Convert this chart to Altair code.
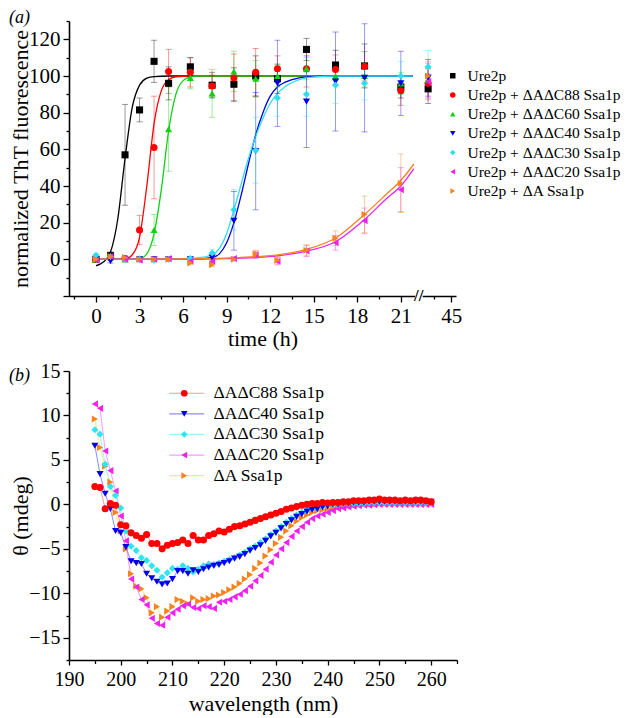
import altair as alt
import pandas as pd

FONT = "Liberation Serif"

# ---------------- panel (a): ThT kinetics ----------------
series_a = ["Ure2p", "Ure2p + ΔAΔC88 Ssa1p", "Ure2p + ΔAΔC60 Ssa1p",
            "Ure2p + ΔAΔC40 Ssa1p", "Ure2p + ΔAΔC30 Ssa1p",
            "Ure2p + ΔAΔC20 Ssa1p", "Ure2p + ΔA Ssa1p"]
colors_a = ["#000000", "#FF0000", "#12D012", "#0000E6", "#2EDDEE", "#EE22EE", "#F5821F"]
shapes_a = ["square", "circle", "triangle-up", "triangle-down", "diamond",
            "triangle-left", "triangle-right"]

time_h = [0, 1, 2, 3, 4, 5, 6.5, 8, 9.5, 11, 12.5, 14.5, 16.5, 18.5, 21, 43]

ure2p_val = [0, 2, 57, 81.5, 108, 96, 105, 95, 95.5, 100, 98.5, 114.5, 106, 105.5, 94, 93]
ure2p_err = [1, 2, 27.5, 6.5, 11.5, 9, 5, 7, 9, 11, 8, 6, 8, 12, 6, 8]
c88_val = [0, 1, 0.5, 16, 61, 102.5, 102, 94.5, 99, 102, 104, 104, 103.5, 105.3, 92, 96]
c88_err = [1, 1, 1, 8, 28, 12, 8, 6, 13, 13, 7, 10, 8, 8, 8, 8]
c60_val = [0, 1, 0, 0.5, 16, 71, 99, 90.5, 102.5, 98.5, 100, 104, 100, 100, 96, 98]
c60_err = [1, 1, 1, 1, 8.5, 23, 6, 13, 11, 10, 6, 6, 5, 6, 6, 6]
c40_val = [0, -1, 0, 0, 0, 0, 0, 1, 21, 59, 96, 86, 97, 99, 96, 99]
c40_err = [1, 1, 1, 1, 1, 1, 1, 2, 16, 32, 23.5, 25, 27, 29.5, 17.5, 10]
c30_val = [2.2, 1.5, 0, 0, -0.5, 0, 0.5, 3.5, 27, 59.5, 88, 90, 95, 96, 100, 105]
c30_err = [1, 1, 1, 1, 1, 1, 1, 2, 11, 18, 10, 12, 10, 9, 8, 9]
c20_val = [-0.5, 1.5, 0, -0.5, 0, 0.5, -1, -1, 0.5, 2.5, -1, 4.5, 9, 21, 38, 97]
c20_err = [1, 1, 1, 1, 1, 1, 1, 1, 1, 2, 2, 3, 4, 7, 12, 10]
dA_val = [0, 1.5, 1, 0, 0, 0, -2, -2.9, 0, 2.9, -0.5, 5, 11.5, 24.5, 41.5, 100]
dA_err = [1, 1, 1, 1, 1, 1, 1, 1, 1, 2, 2, 3, 4, 10, 16, 8]

# fitted sigmoid curves at knots
ure2p_fit_t = [0, 0.5, 1, 1.5, 2, 2.5, 3, 3.5, 4, 5, 21.8]
ure2p_fit_v = [-3.5, -1.5, 4, 22, 55, 83, 95, 98.8, 99.7, 100, 100]
c88_fit_t = [0, 2, 2.5, 3, 3.5, 4, 4.5, 5, 5.5, 6.5, 21.8]
c88_fit_v = [0, 0.2, 2.5, 12, 40, 74, 92, 98, 99.6, 100, 100]
c60_fit_t = [0, 3, 3.5, 4, 4.5, 5, 5.5, 6, 6.5, 7, 21.8]
c60_fit_v = [0, 0.3, 3, 14, 38, 70, 90, 97.5, 99.5, 100, 100]
c40_fit_t = [0, 6, 7, 8, 8.5, 9, 9.5, 10, 10.5, 11, 11.5, 12, 12.5, 13, 14, 15, 16, 21.8]
c40_fit_v = [0, 0.1, 0.2, 1, 3, 9, 20, 35, 52, 68, 80, 89, 94, 96.5, 99, 99.7, 100, 100]
c30_fit_t = [0, 6, 7, 8, 8.5, 9, 9.5, 10, 10.5, 11, 11.5, 12, 12.5, 13, 14, 15, 16.5, 21.8]
c30_fit_v = [0, 0.3, 0.8, 2.5, 6, 14, 27, 41, 55, 67, 77, 85, 90.5, 94, 98, 99.5, 100, 100]
c20_fit_t = [0, 6, 9, 11, 12.5, 14.5, 16.5, 18.5, 20, 21, 21.9]
c20_fit_v = [0, 0.1, 0.4, 1.0, 1.9, 4.5, 9.6, 21.7, 33, 40, 49.5]
dA_fit_t = [0, 6, 9, 11, 12.5, 14.5, 16.5, 18.5, 20, 21, 21.9]
dA_fit_v = [0, 0.2, 0.7, 1.4, 2.4, 5.4, 11.6, 24.5, 35.5, 43, 52]

# broken time axis: values past the break are compressed next to it
BREAK_POS = 22.24
T45_POS = 24.48
POST_SCALE = 0.8


def disp(t):
    return t if t <= 22 else T45_POS + (t - 45) * POST_SCALE


vals_a = [ure2p_val, c88_val, c60_val, c40_val, c30_val, c20_val, dA_val]
errs_a = [ure2p_err, c88_err, c60_err, c40_err, c30_err, c20_err, dA_err]
fits_a = [(ure2p_fit_t, ure2p_fit_v), (c88_fit_t, c88_fit_v), (c60_fit_t, c60_fit_v),
          (c40_fit_t, c40_fit_v), (c30_fit_t, c30_fit_v), (c20_fit_t, c20_fit_v),
          (dA_fit_t, dA_fit_v)]

rows = []
for name, vals, errs in zip(series_a, vals_a, errs_a):
    for t, v, e in zip(time_h, vals, errs):
        rows.append(dict(series=name, series_c=name, td=disp(t), v=v, lo=v - e, hi=v + e))
df_a = pd.DataFrame(rows)

rows = []
for name, (ts, vs) in zip(series_a, fits_a):
    for t, v in zip(ts, vs):
        rows.append(dict(series_c=name, td=t, v=v))
df_fit = pd.DataFrame(rows)

brk = pd.DataFrame({"x0": [BREAK_POS - 0.27], "x1": [BREAK_POS + 0.27],
                    "y0": [-22.2], "y1": [-17.8], "xm": [BREAK_POS], "ym": [-20], "s": ["//"]})
panel_labels = pd.DataFrame({"lab": ["(a)", "(b)"]})


def cond(test, major, minor):
    return {"condition": {"test": test, "value": major}, "value": minor}


def axis(**kw):
    base = dict(grid=False, domainColor="black", tickColor="black", domainWidth=1.6,
                tickWidth=1.3, labelColor="black", titleColor="black", labelFont=FONT,
                titleFont=FONT, titleFontWeight="normal", labelFlush=False,
                labelOverlap=False)
    base.update(kw)
    return alt.Axis(**base)


xa_values = sorted([-1.5 + 3 * k for k in range(8)] + [3 * k for k in range(8)]
                   + [disp(43.5), disp(45)])
axis_xa = axis(values=xa_values,
               labelExpr="datum.value > 24 ? '45' : (datum.value > 22 ? '' : (abs(datum.value % 3) < 0.01 ? format(datum.value, 'd') : ''))",
               tickSize=cond("datum.value > 24 || (datum.value < 22 && abs(datum.value % 3) < 0.01)", 6, 3),
               title="time (h)", labelFontSize=21, titleFontSize=22,
               labelPadding=3, titlePadding=2)
axis_ya = axis(values=list(range(-20, 131, 10)),
               labelExpr="datum.value >= 0 && datum.value <= 120 && datum.value % 20 == 0 ? format(datum.value, 'd') : ''",
               tickSize=cond("datum.value % 20 == 0", 6, 3),
               title="normalized ThT fluorescence", labelFontSize=21, titleFontSize=22,
               labelPadding=3, titlePadding=0, minExtent=37, maxExtent=37)

xs_a = alt.Scale(domain=[-1.86, 24.8], nice=False, zero=False)
ys_a = alt.Scale(domain=[-20, 130], nice=False, zero=False)
cs_a = alt.Scale(domain=series_a, range=colors_a)
ss_a = alt.Scale(domain=series_a, range=shapes_a)
# separate (data-driven) colour scale for curves and error bars
line_scale_a = alt.Scale(range=colors_a)

legend_a = alt.Legend(title=None, orient="none", legendX=376, legendY=47, symbolSize=30,
                      symbolStrokeWidth=0, labelFontSize=15.5, labelFont=FONT,
                      labelColor="black", labelOffset=7, rowPadding=2.2, padding=0,
                      labelLimit=0)

X_a = alt.X("td:Q", scale=xs_a, axis=axis_xa)

curves = alt.Chart(df_fit).mark_line(strokeWidth=1.3, interpolate="monotone").encode(
    x=X_a,
    y=alt.Y("v:Q", scale=ys_a, axis=axis_ya),
    stroke=alt.Stroke("series_c:N", sort=series_a, scale=line_scale_a, legend=None),
)
err_rule = alt.Chart(df_a).mark_rule(strokeWidth=1, opacity=0.4).encode(
    x=X_a,
    y=alt.Y("lo:Q", scale=ys_a, axis=axis_ya),
    y2="hi:Q",
    stroke=alt.Stroke("series_c:N", sort=series_a, scale=line_scale_a, legend=None),
)
cap_lo = alt.Chart(df_a).mark_tick(orient="horizontal", size=6, thickness=1, opacity=0.4).encode(
    x=X_a,
    y=alt.Y("lo:Q", scale=ys_a, axis=axis_ya),
    fill=alt.Fill("series_c:N", sort=series_a, scale=line_scale_a, legend=None),
)
cap_hi = alt.Chart(df_a).mark_tick(orient="horizontal", size=6, thickness=1, opacity=0.4).encode(
    x=X_a,
    y=alt.Y("hi:Q", scale=ys_a, axis=axis_ya),
    fill=alt.Fill("series_c:N", sort=series_a, scale=line_scale_a, legend=None),
)
points_a = alt.Chart(df_a).mark_point(filled=True, size=50, opacity=1, strokeWidth=0).encode(
    x=X_a,
    y=alt.Y("v:Q", scale=ys_a, axis=axis_ya),
    color=alt.Color("series:N", scale=cs_a, legend=legend_a),
    shape=alt.Shape("series:N", scale=ss_a, legend=legend_a),
)
brk_rect = alt.Chart(brk).mark_rect(color="white").encode(
    x=alt.X("x0:Q", scale=xs_a, axis=axis_xa), x2="x1:Q",
    y=alt.Y("y0:Q", scale=ys_a, axis=axis_ya), y2="y1:Q",
)
brk_text = alt.Chart(brk).mark_text(fontSize=17, font=FONT, fontWeight="bold",
                                    color="black", baseline="middle").encode(
    x=alt.X("xm:Q", scale=xs_a, axis=axis_xa),
    y=alt.Y("ym:Q", scale=ys_a, axis=axis_ya),
    text="s:N",
)
label_a = alt.Chart(panel_labels).transform_filter("datum.lab == '(a)'").mark_text(
    font=FONT, fontSize=18, fontStyle="italic", align="left", baseline="middle",
    color="black").encode(x=alt.value(-60), y=alt.value(-3), text="lab:N")

chart_a = alt.layer(curves, err_rule, cap_lo, cap_hi, points_a, brk_rect, brk_text,
                    label_a).properties(width=387, height=275)

# ---------------- panel (b): CD spectra ----------------
series_b = ["ΔAΔC88 Ssa1p", "ΔAΔC40 Ssa1p", "ΔAΔC30 Ssa1p", "ΔAΔC20 Ssa1p", "ΔA Ssa1p"]
colors_b = ["#FF0000", "#0000F0", "#2EE6F0", "#EE22EE", "#F5821F"]
pale_b = ["#FF9A9A", "#8C8CFF", "#9AF6FF", "#FF9AFF", "#FFE680"]
shapes_b = ["circle", "triangle-down", "diamond", "triangle-left", "triangle-right"]

wavelength = list(range(195, 261))
cd_c88 = [2.0, 1.9, -0.5, 0.1, -0.1, -2.3, -2.4, -3.2, -3.5, -3.8,
          -3.4, -4.4, -4.4, -5.0, -4.6, -4.4, -4.3, -4.0, -4.4, -3.5,
          -4.0, -4.0, -3.5, -3.3, -3.0, -3.1, -2.8, -2.5, -2.4, -2.2,
          -2.0, -1.8, -1.6, -1.4, -1.2, -1.0, -0.8, -0.55, -0.4, -0.25,
          -0.1, 0.0, 0.1, 0.1, 0.2, 0.15, 0.2, 0.2, 0.3, 0.3,
          0.4, 0.4, 0.4, 0.5, 0.5, 0.6, 0.5, 0.5, 0.5, 0.4,
          0.5, 0.4, 0.5, 0.5, 0.4, 0.3]
cd_c40 = [6.6, 3.4, 1.2, -0.5, -3.0, -3.2, -4.8, -6.4, -6.6, -6.7,
          -7.8, -8.3, -8.7, -9.0, -8.9, -8.4, -7.5, -7.5, -7.8, -7.4,
          -7.6, -7.3, -7.1, -6.9, -6.8, -6.6, -6.4, -6.1, -5.9, -5.6,
          -5.2, -4.9, -4.6, -4.1, -3.6, -3.2, -2.7, -2.2, -1.8, -1.4,
          -1.1, -0.8, -0.6, -0.5, -0.3, -0.2, 0.0, 0.0, 0.1, 0.1,
          0.2, 0.2, 0.2, 0.3, 0.3, 0.3, 0.3, 0.3, 0.3, 0.3,
          0.3, 0.3, 0.3, 0.3, 0.3, 0.3]
cd_c30 = [8.4, 7.9, 4.5, 2.0, 1.0, -0.4, -3.0, -4.7, -5.2, -6.0,
          -6.3, -6.9, -7.4, -8.2, -7.7, -7.2, -7.3, -6.9, -7.2, -7.6,
          -7.3, -6.9, -6.7, -6.8, -6.6, -6.4, -6.2, -6.0, -5.7, -5.4,
          -5.0, -4.7, -4.3, -3.9, -3.4, -3.0, -2.5, -2.0, -1.6, -1.2,
          -0.9, -0.7, -0.5, -0.4, -0.2, -0.1, 0.0, 0.0, 0.1, 0.1,
          0.1, 0.1, 0.1, 0.2, 0.2, 0.2, 0.2, 0.2, 0.2, 0.2,
          0.2, 0.2, 0.2, 0.2, 0.2, 0.2]
cd_c20 = [11.3, 10.8, 6.0, 3.8, 1.5, -1.3, -4.1, -8.4, -9.3, -10.7,
          -11.3, -12.8, -13.4, -13.6, -12.7, -12.2, -11.8, -11.4, -11.2, -11.6,
          -11.7, -11.4, -11.5, -11.7, -11.0, -10.9, -10.7, -10.4, -10.1, -9.7,
          -9.2, -8.6, -8.0, -7.3, -6.5, -5.7, -5.0, -4.3, -3.6, -3.0,
          -2.5, -2.0, -1.6, -1.3, -1.1, -0.9, -0.7, -0.5, -0.4, -0.3,
          -0.2, -0.15, -0.1, -0.1, -0.05, 0.0, 0.0, 0.0, 0.0, 0.0,
          0.0, 0.0, 0.0, 0.0, 0.0, 0.0]
cd_dA = [9.6, 6.4, 4.3, 2.5, -0.9, -3.0, -5.0, -7.8, -9.2, -9.5,
         -10.5, -12.2, -11.5, -12.7, -12.0, -11.5, -10.7, -10.9, -11.2, -10.5,
         -10.9, -10.7, -10.6, -10.3, -10.2, -9.9, -9.6, -9.3, -8.9, -8.4,
         -7.9, -7.2, -6.6, -5.8, -5.1, -4.4, -3.7, -3.0, -2.4, -1.9,
         -1.5, -1.2, -0.9, -0.7, -0.6, -0.5, -0.4, -0.3, -0.2, -0.15,
         -0.1, -0.05, 0.0, 0.0, 0.0, 0.05, 0.05, 0.05, 0.05, 0.05,
         0.05, 0.05, 0.05, 0.05, 0.05, 0.05]

vals_b = [cd_c88, cd_c40, cd_c30, cd_c20, cd_dA]
rows = []
for name, vals in reversed(list(zip(series_b, vals_b))):
    for w, v in zip(wavelength, vals):
        rows.append(dict(series=name, series_l=name, nm=w, v=v))
df_b = pd.DataFrame(rows)

axis_xb = axis(values=list(range(190, 266, 5)),
               labelExpr="datum.value % 10 == 0 && datum.value <= 260 ? format(datum.value, 'd') : ''",
               tickSize=cond("datum.value % 10 == 0", 5, 3.5),
               title="wavelength (nm)", labelFontSize=20, titleFontSize=22,
               labelPadding=4, titlePadding=4)
axis_yb = axis(values=[-17.5 + 2.5 * k for k in range(14)],
               labelExpr="datum.value % 5 == 0 ? format(datum.value, 'd') : ''",
               tickSize=cond("datum.value % 5 == 0", 6, 3),
               title="θ (mdeg)", labelFontSize=20, titleFontSize=22,
               labelPadding=3, titlePadding=0, minExtent=37, maxExtent=37)

xs_b = alt.Scale(domain=[190, 265], nice=False, zero=False)
ys_b = alt.Scale(domain=[-17.5, 15], nice=False, zero=False)

legend_b_line = alt.Legend(title=None, orient="none", legendX=109, legendY=13.5,
                           symbolType="M-3.5,0H3.5", symbolSize=100, symbolStrokeWidth=1.2,
                           labelFontSize=17.5, labelFont=FONT, labelColor="black",
                           labelOffset=18, rowPadding=1.6, padding=0, labelLimit=0)
legend_b_pts = alt.Legend(title=None, orient="none", legendX=106.5, legendY=13.5,
                          symbolSize=45, symbolStrokeWidth=0, labelFontSize=17.5,
                          labelFont=FONT, labelExpr="' '", rowPadding=1.6, padding=0,
                          labelLimit=0)

lines_b = alt.Chart(df_b).mark_line(strokeWidth=1).encode(
    x=alt.X("nm:Q", scale=xs_b, axis=axis_xb),
    y=alt.Y("v:Q", scale=ys_b, axis=axis_yb),
    stroke=alt.Stroke("series_l:N", sort=series_b, scale=alt.Scale(range=pale_b),
                      legend=legend_b_line),
)
points_b = alt.Chart(df_b).mark_point(filled=True, size=50, opacity=1, strokeWidth=0).encode(
    x=alt.X("nm:Q", scale=xs_b, axis=axis_xb),
    y=alt.Y("v:Q", scale=ys_b, axis=axis_yb),
    color=alt.Color("series:N", scale=alt.Scale(domain=series_b, range=colors_b),
                    legend=legend_b_pts),
    shape=alt.Shape("series:N", scale=alt.Scale(domain=series_b, range=shapes_b),
                    legend=legend_b_pts),
)
label_b = alt.Chart(panel_labels).transform_filter("datum.lab == '(b)'").mark_text(
    font=FONT, fontSize=18, fontStyle="italic", align="left", baseline="middle",
    color="black").encode(x=alt.value(-60), y=alt.value(5), text="lab:N")

chart_b = alt.layer(lines_b, points_b, label_b).properties(width=388, height=289)

chart = alt.vconcat(chart_a, chart_b, spacing=10).resolve_scale(
    color="independent", shape="independent", stroke="independent", fill="independent"
).resolve_legend(
    color="independent", shape="independent", stroke="independent", fill="independent"
).properties(
    padding={"left": 0, "top": 0, "right": 0, "bottom": 0}
).configure(font=FONT).configure_axis(
    labelFont=FONT, titleFont=FONT, titleFontWeight="normal", labelColor="black",
    titleColor="black"
).configure_legend(labelFont=FONT).configure_view(stroke="transparent")

chart.save("out.html", embed_options={"renderer": "svg", "actions": False})
